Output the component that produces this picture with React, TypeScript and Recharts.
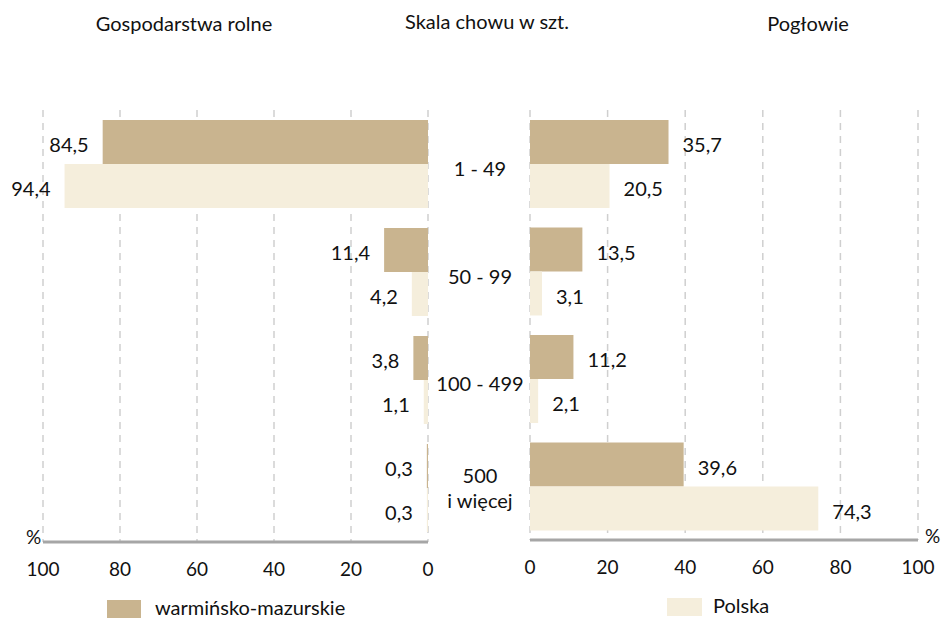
import React from 'react';
import { BarChart, Bar, XAxis, YAxis, CartesianGrid, LabelList } from 'recharts';

const categories = ['1 - 49', '50 - 99', '100 - 499', '500\ni więcej'];
const farmsWM = [84.5, 11.4, 3.8, 0.3];
const farmsPL = [94.4, 4.2, 1.1, 0.3];
const herdWM = [35.7, 13.5, 11.2, 39.6];
const herdPL = [20.5, 3.1, 2.1, 74.3];
const xTicks = [0, 20, 40, 60, 80, 100];

const seriesNames = { wm: 'warmińsko-mazurskie', pl: 'Polska' };

const farmsData = categories.map((c, i) => ({ cat: c, wm: farmsWM[i], pl: farmsPL[i] }));
const herdData = categories.map((c, i) => ({ cat: c, wm: herdWM[i], pl: herdPL[i] }));

const WARM = '#C9B48F';
const LIGHT = '#F5EEDC';
const AXIS = '#A6A6A6';
const GRID = '#CFCFCF';
const FONT = 'Lato, "Open Sans", sans-serif';
const FS = 20;

const fmt = (v: number) => String(v).replace('.', ',');

const LeftLabel = (props: any) => {
  const { x, y, width, height, value } = props;
  const left = Math.min(Number(x), Number(x) + Number(width));
  return (
    <text x={left - 14} y={Number(y) + Number(height) / 2 + 2} textAnchor="end" dominantBaseline="central"
      fontSize={FS} fontFamily={FONT} fill="#111">{fmt(value)}</text>
  );
};

const RightLabel = (props: any) => {
  const { x, y, width, height, value } = props;
  const right = Math.max(Number(x), Number(x) + Number(width));
  return (
    <text x={right + 14} y={Number(y) + Number(height) / 2 + 2} textAnchor="start" dominantBaseline="central"
      fontSize={FS} fontFamily={FONT} fill="#111">{fmt(value)}</text>
  );
};

// category label centred in the gap between the two charts, at the middle of the bar group
const CatLabel = (props: any) => {
  const { x, y, width, height, value } = props;
  const left = Math.min(Number(x), Number(x) + Number(width));
  const cx = left - 50;
  const cy = Number(y) + Number(height);
  const lines = String(value).split('\n');
  if (lines.length === 1) {
    return (
      <text x={cx} y={cy + 4} textAnchor="middle" dominantBaseline="central" fontSize={FS}
        fontFamily={FONT} fill="#111">{lines[0]}</text>
    );
  }
  return (
    <g>
      <text x={cx} y={cy - 12} textAnchor="middle" dominantBaseline="central" fontSize={FS}
        fontFamily={FONT} fill="#111">{lines[0]}</text>
      <text x={cx} y={cy + 13} textAnchor="middle" dominantBaseline="central" fontSize={FS}
        fontFamily={FONT} fill="#111">{lines[1]}</text>
    </g>
  );
};

const tickStyle = { fontSize: 19, fontFamily: FONT, fill: '#111' };

export default function App() {
  return (
    <div style={{ position: 'absolute', left: 0, top: 0, width: 943, height: 618, background: '#fff', fontFamily: FONT, overflow: 'hidden' }}>
      <div style={{ position: 'absolute', left: 0, top: 0 }}>
        <BarChart width={470} height={618} data={farmsData} layout="vertical"
          margin={{ top: 110, right: 42, left: 43, bottom: 26 }} barGap={0} barSize={44}>
          <CartesianGrid horizontal={false} stroke={GRID} strokeDasharray="7 6" strokeWidth={1.5} />
          <XAxis type="number" domain={[0, 100]} ticks={xTicks} reversed height={50}
            axisLine={{ stroke: AXIS, strokeWidth: 3 }} tickLine={false} tickMargin={15} tick={tickStyle} />
          <YAxis type="category" dataKey="cat" orientation="right" width={0} tick={false} tickLine={false}
            axisLine={{ stroke: AXIS, strokeWidth: 2.5 }} />
          <Bar dataKey="wm" name={seriesNames.wm} fill={WARM} isAnimationActive={false}>
            <LabelList dataKey="wm" content={LeftLabel} />
          </Bar>
          <Bar dataKey="pl" name={seriesNames.pl} fill={LIGHT} isAnimationActive={false}>
            <LabelList dataKey="pl" content={LeftLabel} />
          </Bar>
        </BarChart>
      </div>
      <div style={{ position: 'absolute', left: 420, top: 0 }}>
        <BarChart width={523} height={618} data={herdData} layout="vertical"
          margin={{ top: 110, right: 25, left: 110, bottom: 28 }} barGap={0} barSize={44}>
          <CartesianGrid horizontal={false} stroke={GRID} strokeDasharray="7 6" strokeWidth={1.5} />
          <XAxis type="number" domain={[0, 100]} ticks={xTicks} height={50}
            axisLine={{ stroke: AXIS, strokeWidth: 3 }} tickLine={false} tickMargin={15} tick={tickStyle} />
          <YAxis type="category" dataKey="cat" width={0} tickLine={false} tick={false}
            axisLine={{ stroke: AXIS, strokeWidth: 2.5 }} />
          <Bar dataKey="wm" name={seriesNames.wm} fill={WARM} isAnimationActive={false}>
            <LabelList dataKey="wm" content={RightLabel} />
            <LabelList dataKey="cat" content={CatLabel} />
          </Bar>
          <Bar dataKey="pl" name={seriesNames.pl} fill={LIGHT} isAnimationActive={false}>
            <LabelList dataKey="pl" content={RightLabel} />
          </Bar>
        </BarChart>
      </div>

      <div style={{ position: 'absolute', left: 0, width: 368, top: 11, textAlign: 'center', fontSize: 20, color: '#111' }}>Gospodarstwa rolne</div>
      <div style={{ position: 'absolute', left: 387, width: 200, top: 9, textAlign: 'center', fontSize: 20, color: '#111' }}>Skala chowu w szt.</div>
      <div style={{ position: 'absolute', left: 708, width: 200, top: 11, textAlign: 'center', fontSize: 20, color: '#111' }}>Pogłowie</div>

      <div style={{ position: 'absolute', left: 26, top: 525, fontSize: 19, color: '#111' }}>%</div>
      <div style={{ position: 'absolute', left: 925, top: 524, fontSize: 19, color: '#111' }}>%</div>

      <div style={{ position: 'absolute', left: 107, top: 600, width: 34, height: 18, background: WARM }} />
      <div style={{ position: 'absolute', left: 155, top: 595, fontSize: 20, color: '#111' }}>{seriesNames.wm}</div>
      <div style={{ position: 'absolute', left: 667, top: 598, width: 35, height: 18, background: LIGHT }} />
      <div style={{ position: 'absolute', left: 713, top: 593, fontSize: 20, color: '#111' }}>{seriesNames.pl}</div>
    </div>
  );
}
